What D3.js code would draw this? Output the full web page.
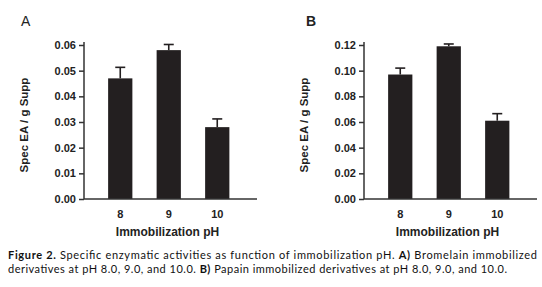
<!DOCTYPE html>
<html><head><meta charset="utf-8">
<script src="https://cdn.jsdelivr.net/npm/d3@7"></script>
<style>body{margin:0;background:#fff}svg{display:block}</style>
</head><body>
<script>
const categories = ["8", "9", "10"];
const valuesA = [0.047, 0.058, 0.028];
const errorsA = [0.0043, 0.0022, 0.0032];
const valuesB = [0.097, 0.119, 0.061];
const errorsB = [0.005, 0.0018, 0.0055];
const ticksA = [0, 0.01, 0.02, 0.03, 0.04, 0.05, 0.06];
const ticksB = [0, 0.02, 0.04, 0.06, 0.08, 0.10, 0.12];
const panelLabels = ["A", "B"];
const yTitle = "Spec EA / g Supp";
const xTitle = "Immobilization pH";

const W = 542, H = 287;
const svg = d3.select("body").append("svg").attr("width", W).attr("height", H);
const ink = "#231f20";

function panel(dx, label, values, errors, ticks, fmt) {
  const g = svg.append("g").attr("transform", `translate(${dx},0)`);
  const x0 = 84, xEnd = 257, yTop = 45, yBot = 199;
  const x = d3.scaleBand().domain(categories).range([96, 241.5]).paddingInner(0.5).paddingOuter(0.25);
  const y = d3.scaleLinear().domain([0, ticks[ticks.length - 1]]).range([yBot, yTop]);

  // bars
  g.selectAll("rect.bar").data(values).join("rect")
    .attr("x", (d, i) => x(categories[i]))
    .attr("y", d => y(d))
    .attr("width", x.bandwidth())
    .attr("height", d => yBot - y(d))
    .attr("fill", ink);
  // error bars
  const eb = g.selectAll("g.err").data(values).join("g");
  eb.append("line")
    .attr("x1", (d, i) => x(categories[i]) + x.bandwidth() / 2)
    .attr("x2", (d, i) => x(categories[i]) + x.bandwidth() / 2)
    .attr("y1", d => y(d))
    .attr("y2", (d, i) => y(d + errors[i]))
    .attr("stroke", ink).attr("stroke-width", 1.6);
  eb.append("line")
    .attr("x1", (d, i) => x(categories[i]) + x.bandwidth() / 2 - 5)
    .attr("x2", (d, i) => x(categories[i]) + x.bandwidth() / 2 + 5)
    .attr("y1", (d, i) => y(d + errors[i]))
    .attr("y2", (d, i) => y(d + errors[i]))
    .attr("stroke", ink).attr("stroke-width", 1.6);

  // y axis
  const ya = g.append("g").attr("transform", `translate(${x0},0)`)
    .call(d3.axisLeft(y).tickValues(ticks).tickFormat(fmt).tickSize(5).tickPadding(3));
  ya.select(".domain").attr("stroke", "#333").attr("stroke-width", 1.5).attr("d", `M0,${yTop - 3}V${yBot}`);
  ya.selectAll(".tick line").attr("stroke", "#333").attr("stroke-width", 1.5);
  ya.selectAll(".tick text").attr("fill", "#222").attr("font-family", "Liberation Sans, Arial, sans-serif")
    .attr("font-weight", "bold").attr("font-size", 11);

  // x axis
  const xa = g.append("g").attr("transform", `translate(0,${yBot})`)
    .call(d3.axisBottom(x).tickSize(0).tickPadding(11));
  xa.select(".domain").attr("stroke", "#333").attr("stroke-width", 1.5).attr("d", `M${x0},0H${xEnd}`);
  xa.selectAll(".tick text").attr("fill", "#222").attr("font-family", "Liberation Sans, Arial, sans-serif")
    .attr("font-weight", "bold").attr("font-size", 11);

  // titles
  g.append("text").attr("x", (x0 + xEnd) / 2 - 3).attr("y", 236)
    .attr("text-anchor", "middle").attr("font-family", "Liberation Sans, Arial, sans-serif")
    .attr("font-weight", "bold").attr("font-size", 12).attr("fill", "#222").text(xTitle);
  g.append("text").attr("transform", `translate(28,125) rotate(-90)`)
    .attr("text-anchor", "middle").attr("font-family", "Liberation Sans, Arial, sans-serif")
    .attr("font-weight", "bold").attr("font-size", 11.5).attr("fill", "#222").text(yTitle);
  g.append("text").attr("x", label === "B" ? 26 : 21).attr("y", 26)
    .attr("font-family", "Liberation Sans, Arial, sans-serif")
    .attr("font-size", 14).attr("font-weight", label === "B" ? "bold" : "normal")
    .attr("fill", "#222").text(label);
}

panel(0, panelLabels[0], valuesA, errorsA, ticksA, d3.format(".2f"));
panel(280, panelLabels[1], valuesB, errorsB, ticksB, d3.format(".2f"));

// caption
const cap = svg.append("g").attr("font-family", "Lato, 'Open Sans', sans-serif").attr("font-size", 11).attr("fill", "#111");
const l1 = cap.append("text").attr("x", 8).attr("y", 259).attr("textLength", 529).attr("lengthAdjust", "spacing");
l1.append("tspan").attr("font-weight", "bold").text("Figure 2.");
l1.append("tspan").text(" Specific enzymatic activities as function of immobilization pH. ");
l1.append("tspan").attr("font-weight", "bold").text("A)");
l1.append("tspan").text(" Bromelain immobilized");
const l2 = cap.append("text").attr("x", 8).attr("y", 273).attr("textLength", 499).attr("lengthAdjust", "spacing");
l2.append("tspan").text("derivatives at pH 8.0, 9.0, and 10.0. ");
l2.append("tspan").attr("font-weight", "bold").text("B)");
l2.append("tspan").text(" Papain immobilized derivatives at pH 8.0, 9.0, and 10.0.");
</script>
</body></html>
